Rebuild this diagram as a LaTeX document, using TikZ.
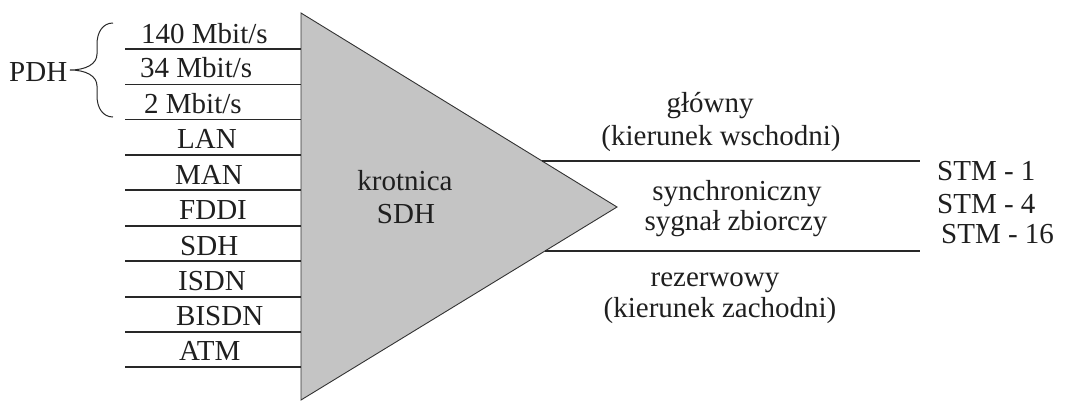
\documentclass[tikz,border=0pt]{standalone}
\usepackage{fontspec}
\setmainfont{Liberation Serif}
\usetikzlibrary{calc}
\definecolor{trifill}{RGB}{196,196,196}
\definecolor{linecol}{RGB}{40,40,40}
\begin{document}
\begin{tikzpicture}[x=1pt,y=-1pt,
  lbl/.style={inner sep=0pt,font=\fontsize{29}{34}\selectfont,text=black!88},
  wire/.style={draw=linecol,line width=1.1pt},
  tri/.style={draw=black!80,line width=0.9pt,fill=trifill,line join=miter}]
\useasboundingbox (0,0) rectangle (1073,402);
% triangle
\coordinate (tt) at (301,13);
\coordinate (tb) at (301,400);
\coordinate (ta) at (617,207);
\draw[tri] (tt) -- (ta) -- (tb) -- cycle;
\node[lbl,anchor=base] (kr) at (405,190) {krotnica};
\node[lbl,anchor=base] (sdhm) at (406,223) {SDH};
% left wires
\foreach \y [count=\i] in {49,84.3,119.6,155,190,226,261,297,332,367}{
  \coordinate (wl\i) at (125,\y);
  \coordinate (wr\i) at (301,\y);
  \draw[wire] (wl\i) -- (wr\i);
}
% left labels
\node[lbl,anchor=base west] (l1) at (141,43) {140 Mbit/s};
\node[lbl,anchor=base west] (l2) at (140,77) {34 Mbit/s};
\node[lbl,anchor=base west] (l3) at (144,113) {2 Mbit/s};
\node[lbl,anchor=base west] (l4) at (177,148) {LAN};
\node[lbl,anchor=base west] (l5) at (175,184) {MAN};
\node[lbl,anchor=base west] (l6) at (179,219) {FDDI};
\node[lbl,anchor=base west] (l7) at (180,255) {SDH};
\node[lbl,anchor=base west] (l8) at (178,290) {ISDN};
\node[lbl,anchor=base west] (l9) at (176,325) {BISDN};
\node[lbl,anchor=base west] (l10) at (179,360) {ATM};
% PDH brace
\node[lbl,anchor=base west] (pdh) at (9,81) {PDH};
\coordinate (bt) at (113,23);
\coordinate (bb) at (113,117);
\coordinate (btip) at (70,70);
\draw[linecol,line width=1pt]
  (bt) .. controls (103,23) and (97,32) .. (97,44)
  -- (97,54) .. controls (97,64) and (86,70) .. (btip)
  .. controls (86,70) and (97,76) .. (97,86)
  -- (97,96) .. controls (97,108) and (103,117) .. (bb);
% right wires
\coordinate (r1s) at (542,161);
\coordinate (r1e) at (920,161);
\coordinate (r2s) at (545,251);
\coordinate (r2e) at (920,251);
\draw[wire] (r1s) -- (r1e);
\draw[wire] (r2s) -- (r2e);
% right labels
\node[lbl,anchor=base] (g1) at (710,112) {główny};
\node[lbl,anchor=base] (g2) at (721,145) {(kierunek wschodni)};
\node[lbl,anchor=base] (s1) at (737,200) {synchroniczny};
\node[lbl,anchor=base] (s2) at (736,230) {sygnał zbiorczy};
\node[lbl,anchor=base] (z1) at (715,286) {rezerwowy};
\node[lbl,anchor=base] (z2) at (720,317) {(kierunek zachodni)};
\node[lbl,anchor=base west] (m1) at (937,180) {STM - 1};
\node[lbl,anchor=base west] (m2) at (937,213) {STM - 4};
\node[lbl,anchor=base west] (m3) at (941,243) {STM - 16};
\end{tikzpicture}
\end{document}
